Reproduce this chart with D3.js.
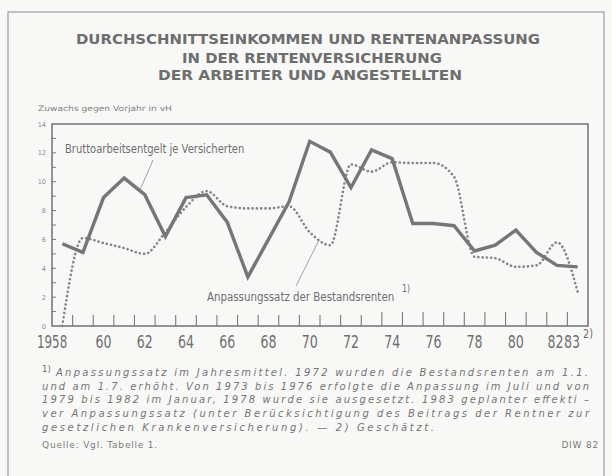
<!DOCTYPE html>
<html>
<head>
<meta charset="utf-8">
<script src="https://cdn.jsdelivr.net/npm/d3@7"></script>
<style>
  html, body { margin: 0; padding: 0; background: #f8f9f7; }
  svg { display: block; }
</style>
</head>
<body>
<div id="chart"></div>
<script>
// years 1958 .. 1983
const years = d3.range(1958, 1984);
// Bruttoarbeitsentgelt je Versicherten (Zuwachs gegen Vorjahr in vH)
const entgelt = [5.7, 5.1, 8.9, 10.25, 9.1, 6.2, 8.9, 9.1, 7.2, 3.4, 6.0, 8.6, 12.8, 12.05, 9.6, 12.2, 11.6, 7.1, 7.1, 6.95, 5.2, 5.6, 6.65, 5.1, 4.2, 4.1];
// Anpassungssatz der Bestandsrenten
const anpassung = [0, 6.1, 5.75, 5.4, 5.0, 6.5, 8.25, 9.35, 8.3, 8.15, 8.15, 8.3, 6.5, 5.6, 11.2, 10.7, 11.35, 11.3, 11.3, 10.35, 4.8, 4.7, 4.1, 4.2, 5.8, 2.35];
const yTicks = [0, 2, 4, 6, 8, 10, 12, 14];
const xLabels = ['1958', '60', '62', '64', '66', '68', '70', '72', '74', '76', '78', '80', '82', '83'];
const xLabelYears = [1958, 1960, 1962, 1964, 1966, 1968, 1970, 1972, 1974, 1976, 1978, 1980, 1982, 1983];

const titleLines = [
  'DURCHSCHNITTSEINKOMMEN  UND  RENTENANPASSUNG',
  'IN DER RENTENVERSICHERUNG',
  'DER ARBEITER UND ANGESTELLTEN'
];
const notes = [
  'Anpassungssatz im Jahresmittel. 1972 wurden die Bestandsrenten am 1.1.',
  'und am 1.7. erhöht. Von 1973 bis 1976 erfolgte die Anpassung im Juli und von',
  '1979 bis 1982 im Januar, 1978 wurde sie ausgesetzt. 1983 geplanter effekti –',
  'ver  Anpassungssatz (unter Berücksichtigung des Beitrags der Rentner zur',
  'gesetzlichen Krankenversicherung). — 2) Geschätzt.'
];

const ink = '#6e6e6e';
const W = 612, H = 476;
const plotLeft = 52, plotRight = 588, plotTop = 124, plotBottom = 326;
const sans = '"DejaVu Sans", sans-serif';

const svg = d3.select('#chart').append('svg')
  .attr('width', W)
  .attr('height', H);

// outer frame
svg.append('rect')
  .attr('x', 8).attr('y', 12)
  .attr('width', 596).attr('height', 480)
  .attr('fill', 'none')
  .attr('stroke', '#9a9a9a')
  .attr('stroke-width', 1.2);

// title
svg.selectAll('.title')
  .data(titleLines)
  .enter().append('text')
  .attr('class', 'title')
  .attr('x', (d, i) => [308, 312, 310][i])
  .attr('y', (d, i) => [44, 62.5, 80][i])
  .attr('text-anchor', 'middle')
  .attr('font-family', sans)
  .attr('font-weight', 'bold')
  .attr('font-size', 14.5)
  .attr('textLength', (d, i) => [464, 260, 304][i])
  .attr('lengthAdjust', 'spacingAndGlyphs')
  .attr('fill', ink)
  .text(d => d);

svg.append('text')
  .attr('x', 38).attr('y', 111)
  .attr('font-family', sans)
  .attr('font-size', 7.5)
  .attr('textLength', 134)
  .attr('lengthAdjust', 'spacingAndGlyphs')
  .attr('fill', '#808080')
  .text('Zuwachs gegen Vorjahr in vH');

const x = d3.scaleBand()
  .domain(years)
  .range([plotLeft, plotRight]);

const y = d3.scaleLinear()
  .domain([0, 14])
  .range([plotBottom, plotTop]);

const cx = yr => x(yr) + x.bandwidth() / 2;

// plot frame
svg.append('rect')
  .attr('x', plotLeft).attr('y', plotTop)
  .attr('width', plotRight - plotLeft).attr('height', plotBottom - plotTop)
  .attr('fill', 'none')
  .attr('stroke', '#7a7a7a')
  .attr('stroke-width', 1.6);

// y ticks every unit, labels every 2
svg.selectAll('.ytick')
  .data(d3.range(1, 14))
  .enter().append('line')
  .attr('x1', plotLeft).attr('x2', plotLeft + 4)
  .attr('y1', d => y(d)).attr('y2', d => y(d))
  .attr('stroke', '#7a7a7a')
  .attr('stroke-width', 1);

svg.selectAll('.ylab')
  .data(yTicks)
  .enter().append('text')
  .attr('x', plotLeft - 6)
  .attr('y', d => y(d) + 2.5)
  .attr('text-anchor', 'end')
  .attr('font-family', sans)
  .attr('font-size', 6.5)
  .attr('fill', '#8a8a8a')
  .text(d => d);

// x ticks at year boundaries
svg.selectAll('.xtick')
  .data(years.slice(1))
  .enter().append('line')
  .attr('x1', d => x(d)).attr('x2', d => x(d))
  .attr('y1', plotBottom).attr('y2', d => plotBottom - (d >= 1974 ? 14 : 11))
  .attr('stroke', '#7a7a7a')
  .attr('stroke-width', 1.1);

// condensed text: draw at natural size, squeeze horizontally
function narrowText(g, str, px, py, size, sx) {
  return g.append('text')
    .attr('transform', `translate(${px},${py}) scale(${sx},1)`)
    .attr('font-family', sans)
    .attr('font-size', size)
    .attr('fill', ink)
    .text(str);
}

xLabelYears.forEach((d, i) => {
  const px = d === 1958 ? 37 : d === 1983 ? 564 : d === 1982 ? 547.5 : cx(d) - 8;
  narrowText(svg, xLabels[i], px, 348, 18, d === 1958 ? 0.66 : 0.7);
});
narrowText(svg, '2)', 583, 338, 13, 0.75);

// series
const line = d3.line()
  .x((d, i) => cx(years[i]))
  .y(d => y(d));

svg.append('path')
  .datum(anpassung)
  .attr('fill', 'none')
  .attr('stroke', '#858585')
  .attr('stroke-width', 2.6)
  .attr('stroke-linecap', 'round')
  .attr('stroke-dasharray', '0.1 4.2')
  .attr('d', line.curve(d3.curveMonotoneX));

svg.append('path')
  .datum(entgelt)
  .attr('fill', 'none')
  .attr('stroke', '#767676')
  .attr('stroke-width', 3.4)
  .attr('stroke-linejoin', 'miter')
  .attr('d', line.curve(d3.curveLinear));

// labels and leader lines
narrowText(svg, 'Bruttoarbeitsentgelt je Versicherten', 65, 153, 12.5, 0.8);

svg.append('line')
  .attr('x1', 153).attr('y1', 160)
  .attr('x2', 140).attr('y2', 190)
  .attr('stroke', '#8a8a8a').attr('stroke-width', 0.8);

narrowText(svg, 'Anpassungssatz der Bestandsrenten', 207, 301, 12.5, 0.82);
narrowText(svg, '1)', 402, 292, 10, 0.8);

svg.append('line')
  .attr('x1', 296).attr('y1', 286)
  .attr('x2', 319).attr('y2', 240)
  .attr('stroke', '#8a8a8a').attr('stroke-width', 0.8);

// footnotes
svg.append('text')
  .attr('x', 42).attr('y', 372)
  .attr('font-family', sans)
  .attr('font-size', 8.5)
  .attr('fill', ink)
  .text('1)');

svg.selectAll('.note')
  .data(notes)
  .enter().append('text')
  .attr('x', (d, i) => i === 0 ? 56 : 42)
  .attr('y', (d, i) => 376 + i * 13.7)
  .attr('font-family', sans)
  .attr('font-style', 'italic')
  .attr('font-size', 10)
  .attr('textLength', (d, i) => [532, 547, 547, 547, 392][i])
  .attr('lengthAdjust', 'spacing')
  .attr('fill', '#747474')
  .text(d => d);

svg.append('text')
  .attr('x', 42).attr('y', 448)
  .attr('font-family', sans)
  .attr('font-size', 9)
  .attr('letter-spacing', 0.8)
  .attr('fill', '#7a7a7a')
  .text('Quelle: Vgl. Tabelle 1.');

svg.append('text')
  .attr('x', 599).attr('y', 448)
  .attr('text-anchor', 'end')
  .attr('font-family', sans)
  .attr('font-size', 9)
  .attr('letter-spacing', 0.8)
  .attr('fill', '#7a7a7a')
  .text('DIW 82');
</script>
</body>
</html>
